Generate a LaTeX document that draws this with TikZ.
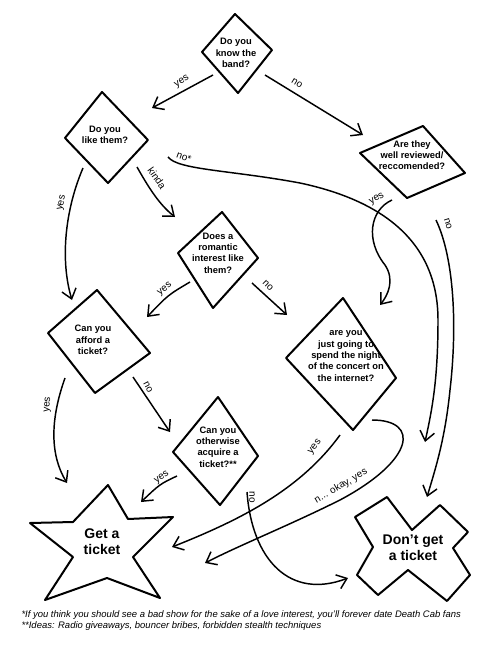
\documentclass[tikz,border=0pt]{standalone}
\usepackage{fontspec}
\setmainfont{Liberation Sans}
\usetikzlibrary{arrows.meta}

\tikzset{every picture/.style={line width=0.75pt}}
\tikzset{
  shapeline/.style={line width=1.5pt, line join=round},
  flow/.style={line width=1.1pt, -{Straight Barb[length=7pt,width=11pt,line width=1.1pt]}},
  question/.style={inner sep=0.75pt, align=center, font=\fontsize{7}{8.5}\selectfont\bfseries},
  result/.style={inner sep=0.75pt, align=center, font=\fontsize{10.5}{12}\selectfont\bfseries},
  answer/.style={inner sep=0.75pt, font=\fontsize{7.5}{9}\selectfont},
  footnote/.style={anchor=west, inner sep=0.75pt, font=\fontsize{7.1}{8}\selectfont\itshape}
}

\begin{document}
\begin{tikzpicture}[x=0.75pt,y=0.75pt,yscale=-1,xscale=1]
        \useasboundingbox (0,0) rectangle (500,646);

        \draw[shapeline] (235,14) -- (272,50) -- (238,93) -- (202,52) -- cycle;
        \draw[shapeline] (102,92) -- (148,140) -- (108,183) -- (65,138) -- cycle;
        \draw[shapeline] (423,126) -- (465,173) -- (407,198) -- (360,153) -- cycle;
        \draw[shapeline] (222,212) -- (258,258) -- (213,308) -- (178,253) -- cycle;
        \draw[shapeline] (97,290) -- (150,353) -- (95,393) -- (48,333) -- cycle;
        \draw[shapeline] (218,397) -- (258,456) -- (220,505) -- (173,452) -- cycle;
        \draw[shapeline] (343,298) -- (396,378) -- (353,430) -- (286,358) -- cycle;
        \draw[shapeline] (108,485) -- (128,519) -- (173,517) -- (133,557) -- (160,598) -- (107,578) -- (45,600) -- (73,557) -- (30,523) -- (73,522) -- cycle;
        \draw[shapeline] (355,517) -- (387,497) -- (412,530) -- (440,505) -- (468,532) -- (453,548) -- (470,575) -- (447,601) -- (408,570) -- (378,595) -- (357,575) -- (373,547) -- cycle;

        \node[question] (know) at (236,53) {Do you\\know the\\band?};
        \node[question] (like) at (105,135) {Do you\\like them?};
        \node[question] (rev) at (412,155) {Are they\\well reviewed/\\reccomended?};
        \node[question] (rom) at (218,253) {Does a\\romantic\\interest like\\them?};
        \node[question] (afford) at (93,340) {Can you\\afford a\\ticket?};
        \node[question] (other) at (218,447) {Can you\\otherwise\\acquire a\\ticket?**};
        \node[question] (going) at (346,356) {are you\\just going to\\spend the night\\of the concert on\\the internet?};
        \node[result] (get) at (102,542) {Get a\\ticket};
        \node[result] (dont) at (413,548) {Don’t get\\a ticket};

        \coordinate (knowYes) at (213,75);
        \coordinate (knowNo) at (265,75);
        \coordinate (likeIn) at (152,108);
        \coordinate (revIn) at (363,135);
        \coordinate (likeKinda) at (137,167);
        \coordinate (likeNo) at (168,157);
        \coordinate (likeYes) at (83,168);
        \coordinate (romIn) at (175,217);
        \coordinate (revYes) at (392,200);
        \coordinate (revNo) at (436,220);
        \coordinate (romYes) at (190,282);
        \coordinate (romNo) at (252,283);
        \coordinate (affordIn) at (72,300);
        \coordinate (affordRight) at (147,317);
        \coordinate (goingIn) at (287,315);
        \coordinate (goingTop) at (380,305);
        \coordinate (affordYes) at (65,378);
        \coordinate (affordNo) at (133,377);
        \coordinate (otherIn) at (170,432);
        \coordinate (otherYes) at (177,476);
        \coordinate (otherNo) at (247,492);
        \coordinate (goingYes) at (340,435);
        \coordinate (goingOkay) at (372,420);
        \coordinate (getTop) at (67,483);
        \coordinate (getUp) at (141,502);
        \coordinate (getRight) at (172,547);
        \coordinate (getLow) at (205,563);
        \coordinate (dontHigh) at (425,442);
        \coordinate (dontTop) at (427,497);
        \coordinate (dontLeft) at (348,578);

        \draw[flow] (knowYes) -- (likeIn);
        \draw[flow] (knowNo) -- (revIn);
        \draw[flow] (likeKinda) .. controls (150,190) and (160,205) .. (romIn);
        \draw[flow] (likeNo) .. controls (178,170) and (230,170) .. (300,183) .. controls (380,200) and (438,240) .. (438,320) .. controls (438,380) and (432,410) .. (dontHigh);
        \draw[flow] (likeYes) .. controls (65,210) and (60,260) .. (affordIn);
        \draw[flow] (revYes) .. controls (370,210) and (365,240) .. (385,265) .. controls (395,280) and (388,295) .. (goingTop);
        \draw[flow] (revNo) .. controls (455,260) and (457,330) .. (450,390) .. controls (445,440) and (435,470) .. (dontTop);
        \draw[flow] (romYes) .. controls (168,295) .. (affordRight);
        \draw[flow] (romNo) -- (goingIn);
        \draw[flow] (affordYes) .. controls (50,420) and (50,455) .. (getTop);
        \draw[flow] (affordNo) -- (otherIn);
        \draw[flow] (otherYes) .. controls (160,484) .. (getUp);
        \draw[flow] (otherNo) .. controls (252,560) and (290,600) .. (dontLeft);
        \draw[flow] (goingYes) .. controls (300,490) and (240,520) .. (getRight);
        \draw[flow] (goingOkay) .. controls (420,420) and (415,460) .. (340,500) .. controls (290,525) and (240,545) .. (getLow);

        \node[answer, rotate=32] (a1) at (182,82) {yes};
        \node[answer, rotate=-32] (a2) at (297,83) {no};
        \node[answer, rotate=-20] (a3) at (184,157) {no*};
        \node[answer, rotate=-55] (a4) at (157,178) {kinda};
        \node[answer, rotate=78] (a5) at (62,203) {yes};
        \node[answer, rotate=38] (a6) at (165,289) {yes};
        \node[answer, rotate=-45] (a7) at (268,286) {no};
        \node[answer, rotate=85] (a8) at (48,405) {yes};
        \node[answer, rotate=-62] (a9) at (148,387) {no};
        \node[answer, rotate=35] (a10) at (162,478) {yes};
        \node[answer, rotate=-90] (a11) at (252,497) {no};
        \node[answer, rotate=30] (a12) at (377,199) {yes};
        \node[answer, rotate=-72] (a13) at (448,224) {no};
        \node[answer, rotate=50] (a14) at (315,447) {yes};
        \node[answer, rotate=30] (a15) at (341,486) {n... okay, yes};

        \node[footnote] (fn1) at (20,615) {*If you think you should see a bad show for the sake of a love interest, you’ll forever date Death Cab fans};
        \node[footnote] (fn2) at (20,626) {**Ideas: Radio giveaways, bouncer bribes, forbidden stealth techniques};
    \end{tikzpicture}
\end{document}
